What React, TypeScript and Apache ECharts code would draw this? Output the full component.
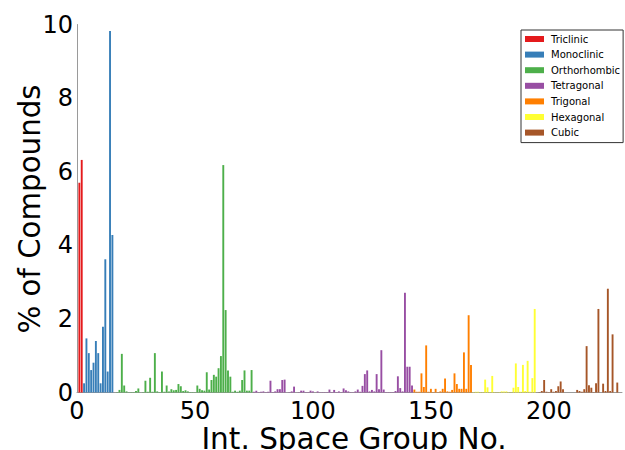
import React, { useEffect, useRef } from "react";
import * as echarts from "echarts";

// Percentage of compounds per international space group number, by crystal system
const triclinicStart = 1;
const triclinic = [5.70, 6.32];

const monoclinicStart = 3;
const monoclinic = [0.25, 1.47, 1.07, 0.61, 0.81, 1.40, 1.07, 0.25, 1.79, 3.62, 0.57, 9.82, 4.28];

const orthorhombicStart = 16;
const orthorhombic = [
  0, 0.01, 0.07, 1.05, 0.19, 0.03, 0.01, 0.01, 0.01, 0.04,
  0.11, 0, 0.01, 0.32, 0.02, 0.4, 0.02, 1.07, 0.03, 0.01,
  0.57, 0.02, 0.19, 0.03, 0.09, 0.06, 0.07, 0.23, 0.17, 0.04,
  0.06, 0.03, 0.01, 0.01, 0.01, 0.19, 0.1, 0.06, 0.05, 0.55,
  0.08, 0.34, 0.48, 0.43, 0.66, 0.99, 6.18, 2.24, 0.6, 0.43,
  0.02, 0.05, 0.02, 0.05, 0.34, 0.6, 0.05, 0.05, 0.61,
];

const tetragonalStart = 75;
const tetragonal = [
  0.02, 0.05, 0.01, 0.02, 0.03, 0.01, 0.02, 0.32, 0.01, 0.03,
  0.09, 0.09, 0.34, 0.35, 0, 0.01, 0.03, 0.16, 0, 0.01,
  0.05, 0.05, 0.01, 0.01, 0.05, 0.03, 0, 0.03, 0.01, 0.01,
  0.01, 0.01, 0.08, 0.01, 0.07, 0.01, 0.03, 0.01, 0.11, 0.06,
  0.03, 0.01, 0.01, 0.03, 0.08, 0.02, 0.18, 0.5, 0.6, 0.03,
  0.07, 0.03, 0.5, 0.09, 1.15, 0.08, 0.01, 0.01, 0.01, 0.01,
  0.04, 0.44, 0.12, 0.03, 2.71, 0.7, 0.7, 0.19,
];

const trigonalStart = 143;
const trigonal = [
  0.08, 0.02, 0.02, 0.52, 0.15, 1.28, 0.02, 0.1, 0.01, 0.1,
  0.01, 0.03, 0.1, 0.38, 0.03, 0.02, 0.07, 0.52, 0.23, 0.1,
  0.1, 1.09, 0.1, 2.1, 0.75,
];

const hexagonalStart = 168;
const hexagonal = [
  0.01, 0.02, 0.02, 0.01, 0.01, 0.35, 0.14, 0.01, 0.45, 0.01,
  0.01, 0.01, 0.03, 0.03, 0.03, 0.01, 0.01, 0.13, 0.79, 0.15,
  0.02, 0.75, 0.04, 0.86, 0.02, 0.39, 2.27,
];

const cubicStart = 195;
const cubic = [
  0, 0.01, 0.04, 0.34, 0.02, 0.01, 0.09, 0.02, 0.04, 0.17,
  0.3, 0.09, 0, 0, 0, 0, 0, 0.07, 0.04, 0.02,
  0.09, 1.26, 0.2, 0.13, 0.01, 0.25, 2.27, 0, 0.24, 0.04,
  2.82, 0.04, 1.58, 0, 0.27, 0,
];

const systems = ["Triclinic", "Monoclinic", "Orthorhombic", "Tetragonal", "Trigonal", "Hexagonal", "Cubic"];
const colors = ["#e41a1c", "#377eb8", "#4daf4a", "#984ea3", "#ff7f00", "#ffff33", "#a65628"];
const yTicks = [0, 2, 4, 6, 8, 10];
const xTicks = [0, 50, 100, 150, 200];

const FONT = "DejaVu Sans";

export default function App() {
  const ref = useRef<HTMLDivElement>(null);
  useEffect(() => {
    if (!ref.current) return;
    const chart = echarts.init(ref.current, null, { renderer: "svg" });
    const groups: [number, number[]][] = [
      [triclinicStart, triclinic],
      [monoclinicStart, monoclinic],
      [orthorhombicStart, orthorhombic],
      [tetragonalStart, tetragonal],
      [trigonalStart, trigonal],
      [hexagonalStart, hexagonal],
      [cubicStart, cubic],
    ];
    const series = groups.map(([start, vals], i) => ({
      name: systems[i],
      type: "bar",
      barWidth: 1.9,
      barGap: "-100%",
      itemStyle: { color: colors[i] },
      data: vals.map((v, j) => [start + j, v]),
    }));
    chart.setOption({
      animation: false,
      backgroundColor: "#ffffff",
      grid: { left: 77, right: -4, top: 24.5, bottom: 57.5 },
      xAxis: {
        type: "value",
        min: 0,
        max: 231,
        interval: 50,
        splitLine: { show: false },
        axisTick: { show: false },
        axisLine: { show: true, lineStyle: { color: "#9a9a9a", width: 1 } },
        axisLabel: {
          fontSize: 24,
          fontFamily: FONT,
          color: "#000",
          margin: 6,
          formatter: (v: number) => (xTicks.includes(v) ? String(v) : ""),
        },
      },
      yAxis: {
        type: "value",
        min: 0,
        max: 10,
        interval: 2,
        splitLine: { show: false },
        axisTick: { show: false },
        axisLine: { show: true, lineStyle: { color: "#9a9a9a", width: 1 } },
        axisLabel: {
          fontSize: 24,
          fontFamily: FONT,
          color: "#000",
          margin: 4,
          formatter: (v: number) => (yTicks.includes(v) ? String(v) : ""),
        },
      },
      legend: {
        orient: "vertical",
        left: 521,
        top: 30,
        icon: "rect",
        itemWidth: 19,
        itemHeight: 6,
        itemGap: 3.6,
        padding: [3, 3, 4, 4],
        borderColor: "#333",
        borderWidth: 1,
        backgroundColor: "#fff",
        textStyle: { fontSize: 10, fontFamily: FONT, color: "#000", lineHeight: 12, padding: [0, 0, 0, 2] },
        data: systems,
      },
      graphic: [
        {
          type: "text",
          x: 30,
          y: 209,
          rotation: Math.PI / 2,
          style: {
            text: "% of Compounds",
            fontSize: 29.3,
            fontFamily: FONT,
            fill: "#000",
            align: "center",
            verticalAlign: "middle",
          },
        },
        {
          type: "text",
          x: 354,
          y: 438.5,
          style: {
            text: "Int. Space Group No.",
            fontSize: 29.5,
            fontFamily: FONT,
            fill: "#000",
            align: "center",
            verticalAlign: "middle",
          },
        },
      ],
      series,
    });
    return () => chart.dispose();
  }, []);
  return <div ref={ref} style={{ position: "absolute", left: 0, top: 0, width: 625, height: 450 }} />;
}
